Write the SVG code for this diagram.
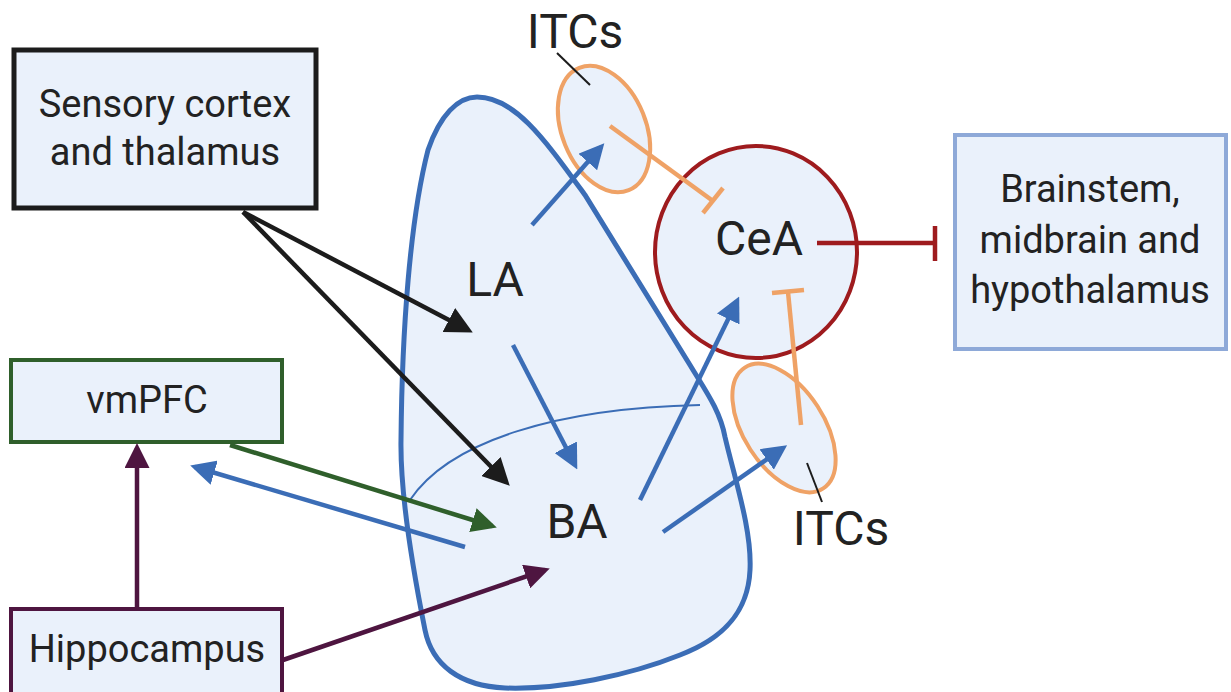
<svg xmlns="http://www.w3.org/2000/svg" width="1231" height="692" viewBox="0 0 1231 692">
<style>
.lbl{font-family:Roboto,"Liberation Sans",sans-serif;fill:#222;text-anchor:middle}
.box{font-size:38px}
.big{font-size:48px}
.ln{fill:none;stroke-width:4.5;stroke-linecap:butt}
</style>
<defs>
<marker id="ahBlack" viewBox="0 0 10 10" refX="8" refY="5" markerUnits="userSpaceOnUse" markerWidth="27" markerHeight="27" orient="auto"><path d="M0,0 L10,5 L0,10 z" fill="#1c1c1c"/></marker>
<marker id="ahBlue" viewBox="0 0 10 10" refX="8" refY="5" markerUnits="userSpaceOnUse" markerWidth="25" markerHeight="25" orient="auto"><path d="M0,0 L10,5 L0,10 z" fill="#3B6DB6"/></marker>
<marker id="ahGreen" viewBox="0 0 10 10" refX="8" refY="5" markerUnits="userSpaceOnUse" markerWidth="25" markerHeight="25" orient="auto"><path d="M0,0 L10,5 L0,10 z" fill="#2F5F2B"/></marker>
<marker id="ahPurple" viewBox="0 0 10 10" refX="8" refY="5" markerUnits="userSpaceOnUse" markerWidth="25" markerHeight="25" orient="auto"><path d="M0,0 L10,5 L0,10 z" fill="#4E1540"/></marker>
</defs>
<rect width="1231" height="692" fill="#fff"/>

<g id="amygdala">
<path d="M477,97 C515,97 545,140 585,195 L690,365 C705,390 720,410 725,437 C735,480 752,530 750,570 C748,615 720,640 680,655 C630,675 560,690 505,688 C460,686 432,665 425,630 C415,580 400,500 401,440 C402,330 410,220 428,150 C440,115 458,97 477,97 Z" fill="#EAF1FB" stroke="#3B6DB6" stroke-width="5"/>
<path d="M410,500 C450,440 560,408 700,405" fill="none" stroke="#3B6DB6" stroke-width="2"/>
</g>

<g id="itc-top">
<ellipse cx="604" cy="129" rx="42" ry="66" transform="rotate(-22 604 129)" fill="#EAF1FB" stroke="#EFA266" stroke-width="4"/>
</g>
<g id="itc-bottom">
<ellipse cx="784" cy="428" rx="40" ry="72" transform="rotate(-33 784 428)" fill="#EAF1FB" stroke="#EFA266" stroke-width="4"/>
</g>
<g id="cea">
<ellipse cx="756" cy="252" rx="101" ry="106" fill="#EAF1FB" stroke="#9E1B1E" stroke-width="4"/>
<text class="lbl big" x="759" y="255">CeA</text>
</g>

<g id="sensory">
<rect x="14" y="50" width="302" height="158" fill="#EAF1FB" stroke="#1c1c1c" stroke-width="5"/>
<text class="lbl box" x="165" y="117">Sensory cortex</text>
<text class="lbl box" x="165" y="165">and thalamus</text>
</g>
<g id="brainstem">
<rect x="955" y="135" width="271" height="214" fill="#EAF1FB" stroke="#8EA9D8" stroke-width="4"/>
<text class="lbl box" x="1090" y="202">Brainstem,</text>
<text class="lbl box" x="1090" y="253">midbrain and</text>
<text class="lbl box" x="1090" y="303">hypothalamus</text>
</g>
<g id="vmpfc">
<rect x="11" y="360" width="271" height="82" fill="#EAF1FB" stroke="#2F5F2B" stroke-width="4"/>
<text class="lbl box" x="147" y="413">vmPFC</text>
</g>
<g id="hippocampus">
<rect x="11" y="609" width="271" height="90" fill="#EAF1FB" stroke="#4E1540" stroke-width="4"/>
<text class="lbl box" x="147" y="662">Hippocampus</text>
</g>

<g id="labels">
<text class="lbl big" x="495" y="296">LA</text>
<text class="lbl big" x="577" y="538">BA</text>
<text class="lbl big" x="575" y="48">ITCs</text>
<text class="lbl big" x="841" y="545">ITCs</text>
</g>

<g id="connectors">
<line x1="557" y1="53" x2="590" y2="85" stroke="#1c1c1c" stroke-width="2"/>
<line x1="807" y1="463" x2="822" y2="502" stroke="#1c1c1c" stroke-width="2"/>

<line class="ln" x1="243" y1="212" x2="468" y2="330" stroke="#1c1c1c" marker-end="url(#ahBlack)"/>
<line class="ln" x1="243" y1="212" x2="506" y2="482" stroke="#1c1c1c" marker-end="url(#ahBlack)"/>

<line class="ln" x1="532" y1="225" x2="601" y2="147" stroke="#3B6DB6" marker-end="url(#ahBlue)"/>
<line class="ln" x1="513" y1="345" x2="575" y2="465" stroke="#3B6DB6" marker-end="url(#ahBlue)"/>
<line class="ln" x1="640" y1="500" x2="737" y2="301" stroke="#3B6DB6" marker-end="url(#ahBlue)"/>
<line class="ln" x1="663" y1="532" x2="783" y2="448" stroke="#3B6DB6" marker-end="url(#ahBlue)"/>
<line class="ln" x1="465" y1="547" x2="195" y2="467" stroke="#3B6DB6" marker-end="url(#ahBlue)"/>

<line class="ln" x1="230" y1="445" x2="492" y2="526" stroke="#2F5F2B" marker-end="url(#ahGreen)"/>

<line class="ln" x1="137" y1="607" x2="137" y2="448" stroke="#4E1540" marker-end="url(#ahPurple)"/>
<line class="ln" x1="283" y1="660" x2="545" y2="570" stroke="#4E1540" marker-end="url(#ahPurple)"/>

<line class="ln" x1="610" y1="126" x2="713" y2="201" stroke="#EFA266"/>
<line class="ln" x1="703" y1="213" x2="723" y2="188" stroke="#EFA266"/>
<line class="ln" x1="801" y1="425" x2="788" y2="292" stroke="#EFA266"/>
<line class="ln" x1="772" y1="293" x2="804" y2="290" stroke="#EFA266"/>

<line class="ln" x1="817" y1="243" x2="935" y2="243" stroke="#9E1B1E"/>
<line class="ln" x1="935" y1="226" x2="935" y2="261" stroke="#9E1B1E"/>
</g>
</svg>
